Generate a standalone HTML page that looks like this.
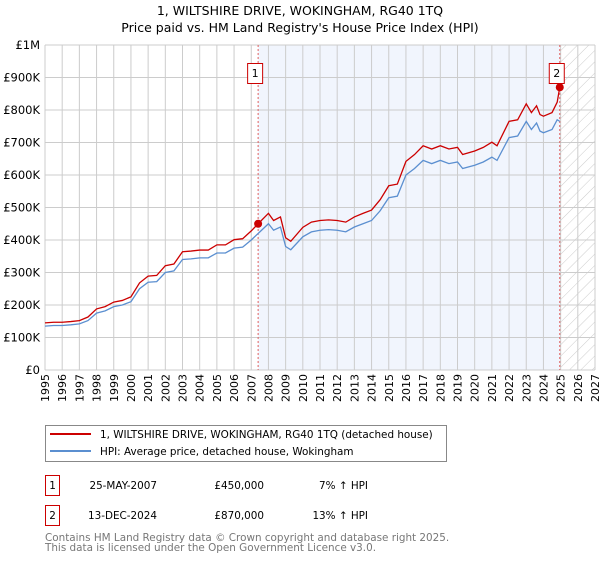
<!DOCTYPE html>
<html><head><meta charset="utf-8"><style>
body{margin:0;background:#fff;}
svg text{font-family:"DejaVu Sans","Liberation Sans",sans-serif;}
</style></head><body>
<svg id="c" width="600" height="560" xmlns="http://www.w3.org/2000/svg">
<defs><pattern id="hatch" width="8" height="8" patternUnits="userSpaceOnUse" patternTransform="rotate(45)"><line x1="0" y1="0" x2="0" y2="8" stroke="#ccc" stroke-width="1"/></pattern></defs>
<text x="300" y="15" text-anchor="middle" font-size="12.5" fill="#000">1, WILTSHIRE DRIVE, WOKINGHAM, RG40 1TQ</text>
<text x="300" y="32" text-anchor="middle" font-size="12.5" fill="#000">Price paid vs. HM Land Registry's House Price Index (HPI)</text>
<g id="plot"></g>
<g>
<rect x="45.5" y="425.5" width="401" height="36" fill="#fff" stroke="#888"/>
<line x1="50" y1="434" x2="91" y2="434" stroke="#cc0000" stroke-width="2"/>
<text x="100" y="438" font-size="10.4">1, WILTSHIRE DRIVE, WOKINGHAM, RG40 1TQ (detached house)</text>
<line x1="50" y1="451" x2="91" y2="451" stroke="#5b8fd0" stroke-width="2"/>
<text x="100" y="455" font-size="10.4">HPI: Average price, detached house, Wokingham</text>
</g>
<g font-size="10.4">
<rect x="45.5" y="475.5" width="14" height="20" fill="#fff" stroke="#cc0000"/>
<text x="52.5" y="489" text-anchor="middle">1</text>
<text x="157" y="489" text-anchor="end">25-MAY-2007</text>
<text x="264" y="489" text-anchor="end">£450,000</text>
<text x="368" y="489" text-anchor="end">7% ↑ HPI</text>
<rect x="45.5" y="505.5" width="14" height="20" fill="#fff" stroke="#cc0000"/>
<text x="52.5" y="519" text-anchor="middle">2</text>
<text x="157" y="519" text-anchor="end">13-DEC-2024</text>
<text x="264" y="519" text-anchor="end">£870,000</text>
<text x="368" y="519" text-anchor="end">13% ↑ HPI</text>
</g>
<text x="45" y="541" font-size="10.4" fill="#777">Contains HM Land Registry data © Crown copyright and database right 2025.</text>
<text x="45" y="551" font-size="10.4" fill="#777">This data is licensed under the Open Government Licence v3.0.</text>
</svg>
<script>
const hpiYears=[1995,1995.5,1996,1996.5,1997,1997.5,1998,1998.5,1999,1999.5,2000,2000.5,2001,2001.5,2002,2002.5,2003,2003.5,2004,2004.5,2005,2005.5,2006,2006.5,2007,2007.4,2008,2008.3,2008.7,2009,2009.3,2010,2010.5,2011,2011.5,2012,2012.5,2013,2013.5,2014,2014.5,2015,2015.5,2016,2016.5,2017,2017.5,2018,2018.5,2019,2019.3,2020,2020.5,2021,2021.3,2022,2022.5,2023,2023.3,2023.6,2023.8,2024,2024.5,2024.8,2024.95];
const hpiValues=[135,137,137,139,142,152,175,182,195,200,210,250,270,272,300,305,340,342,345,345,360,360,375,378,400,420,450,430,440,380,370,410,425,430,432,430,425,440,450,460,490,530,535,600,620,645,635,645,635,640,620,630,640,655,645,715,720,765,740,760,735,730,740,770,765];
const priceValues=[145,147,147,149,152,163,188,195,209,214,225,268,289,291,321,326,364,366,369,369,385,385,401,404,428,450,482,460,471,407,396,439,455,460,462,460,455,471,482,492,524,567,572,642,663,690,680,690,680,685,663,674,685,701,690,765,770,819,792,813,786,781,792,824,870];
const sales=[{t:2007.4,v:450,label:"1"},{t:2024.95,v:870,label:"2"}];
const yTicks=[0,100,200,300,400,500,600,700,800,900,1000];
const yTickLabels=["£0","£100K","£200K","£300K","£400K","£500K","£600K","£700K","£800K","£900K","£1M"];
const xTicks=[1995,1996,1997,1998,1999,2000,2001,2002,2003,2004,2005,2006,2007,2008,2009,2010,2011,2012,2013,2014,2015,2016,2017,2018,2019,2020,2021,2022,2023,2024,2025,2026,2027];

const X0=45,X1=595,Y0=370,Y1=45;
const xs=t=>X0+(t-1995)/(2027-1995)*(X1-X0);
const ys=v=>Y0-v/1000*(Y0-Y1);
const NS="http://www.w3.org/2000/svg";
const g=document.getElementById('plot');
function mk(tag,attrs,parent){const e=document.createElementNS(NS,tag);for(const k in attrs)e.setAttribute(k,attrs[k]);(parent||g).appendChild(e);return e;}

let r=mk('rect',{x:xs(sales[0].t),y:Y1,width:xs(sales[1].t)-xs(sales[0].t),height:Y0-Y1,fill:'#eef3fc',opacity:0.8});


r=mk('rect',{x:xs(sales[1].t),y:Y1,width:X1-xs(sales[1].t),height:Y0-Y1,fill:'url(#hatch)'});



xTicks.forEach(t=>{
  const l=mk('line',{x1:xs(t),y1:Y1,x2:xs(t),y2:Y0,stroke:'#ccc','stroke-width':1});
  
  
  const tx=mk('text',{x:0,y:0,'font-size':11,'text-anchor':'end',transform:`translate(${xs(t)+4},${Y0+4}) rotate(-90)`});
  tx.textContent=t;
  
  
});
yTicks.forEach((v,i)=>{
  const l=mk('line',{x1:X0,y1:ys(v),x2:X1,y2:ys(v),stroke:'#ccc','stroke-width':1});
  
  
  const tx=mk('text',{x:X0-5,y:ys(v)+4,'font-size':11.5,'text-anchor':'end'});
  tx.textContent=yTickLabels[i];
  
  
});
sales.forEach(s=>{
  const l=mk('line',{x1:xs(s.t),y1:Y1,x2:xs(s.t),y2:Y0,stroke:'#e06060','stroke-width':1,'stroke-dasharray':'2,2'});
  
  
});
let p=mk('polyline',{points:hpiYears.map((t,i)=>xs(t)+','+ys(hpiValues[i])).join(' '),fill:'none',stroke:'#5b8fd0','stroke-width':1.3});


p=mk('polyline',{points:hpiYears.map((t,i)=>xs(t)+','+ys(priceValues[i])).join(' '),fill:'none',stroke:'#cc0000','stroke-width':1.3});


sales.forEach(s=>{
  const c=mk('circle',{cx:xs(s.t),cy:ys(s.v),r:4,fill:'#cc0000'});
  
  
  const b=mk('rect',{x:xs(s.t)-10.5,y:63.5,width:15,height:20,fill:'#fff',stroke:'#cc0000'});
  
  
  const tx=mk('text',{x:xs(s.t)-3,y:77,'font-size':11,'text-anchor':'middle'});
  tx.textContent=s.label;
  
  
});
</script>
</body></html>
